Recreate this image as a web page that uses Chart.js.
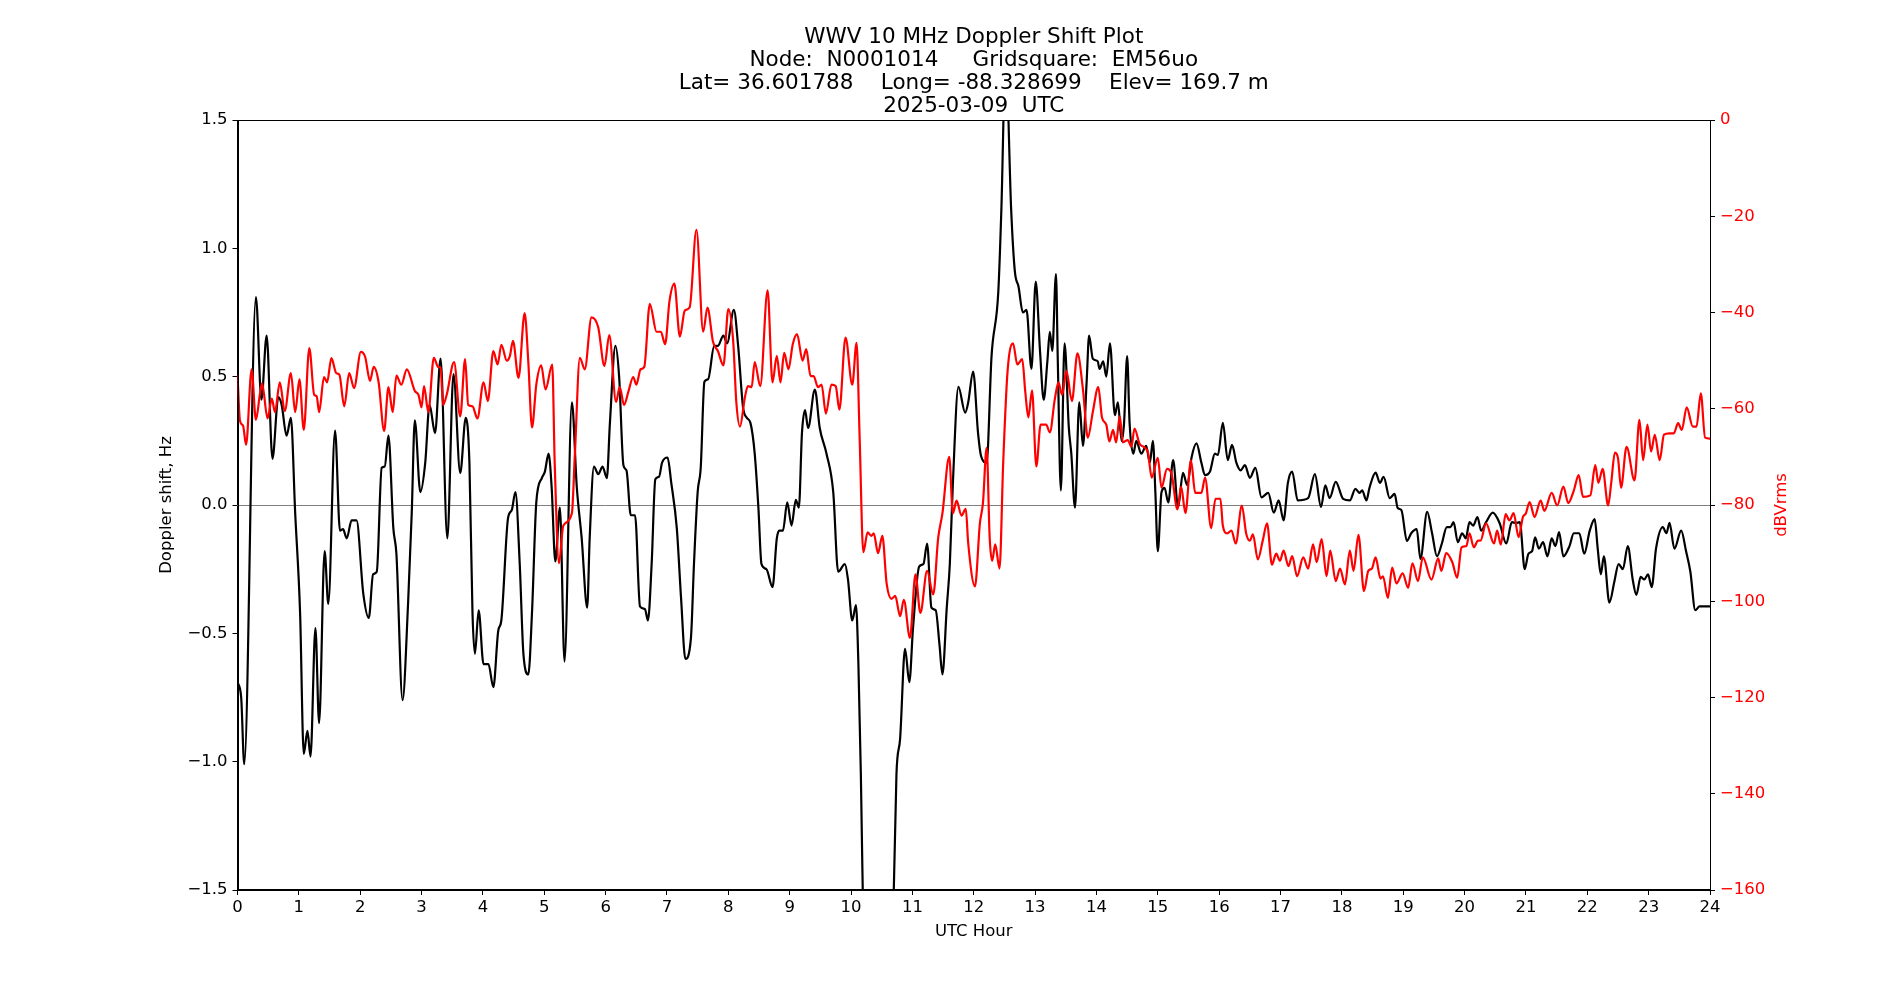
<!DOCTYPE html>
<html>
<head>
<meta charset="utf-8">
<title>WWV 10 MHz Doppler Shift Plot</title>
<script src="https://cdn.jsdelivr.net/npm/chart.js@4.4.1/dist/chart.umd.min.js"></script>
<style>
  html, body { margin: 0; padding: 0; background: #fff; }
  #wrap { width: 1900px; height: 1000px; }
</style>
</head>
<body>
<div id="wrap"><canvas id="doppler-chart" width="1900" height="1000"></canvas></div>
<script>
// Title text
const titleLines = [
    'WWV 10 MHz Doppler Shift Plot',
    'Node:  N0001014     Gridsquare:  EM56uo',
    'Lat= 36.601788    Long= -88.328699    Elev= 169.7 m',
    '2025-03-09  UTC'
];

// Doppler shift (Hz) vs UTC hour
const dopplerHours = [
    0.00, 0.06, 0.11, 0.30, 0.39, 0.475, 0.57, 0.665, 0.72, 0.80, 0.87, 0.94, 1.02, 1.08, 1.14, 1.19,
    1.27, 1.33, 1.42, 1.48, 1.59, 1.67, 1.72, 1.78, 1.86, 1.94, 2.05, 2.14, 2.21, 2.27, 2.35, 2.40,
    2.46, 2.54, 2.59, 2.69, 2.78, 2.84, 2.89, 2.98, 3.06, 3.13, 3.22, 3.31, 3.42, 3.52, 3.63, 3.72,
    3.78, 3.83, 3.87, 3.93, 4.01, 4.09, 4.17, 4.25, 4.30, 4.41, 4.47, 4.53, 4.60, 4.66, 4.74, 4.80,
    4.87, 4.96, 5.01, 5.07, 5.12, 5.18, 5.255, 5.33, 5.45, 5.53, 5.61, 5.70, 5.74, 5.81, 5.88, 5.95,
    6.02, 6.07, 6.16, 6.22, 6.29, 6.34, 6.41, 6.48, 6.56, 6.64, 6.69, 6.75, 6.81, 6.87, 6.92, 7.01,
    7.07, 7.16, 7.23, 7.30, 7.39, 7.44, 7.50, 7.55, 7.61, 7.67, 7.77, 7.83, 7.92, 7.98, 8.09, 8.16,
    8.24, 8.30, 8.36, 8.43, 8.49, 8.54, 8.62, 8.72, 8.79, 8.83, 8.89, 8.96, 9.03, 9.10, 9.15, 9.20,
    9.25, 9.30, 9.41, 9.49, 9.60, 9.71, 9.79, 9.90, 9.95, 10.02, 10.08, 10.12, 10.16, 10.22, 10.45, 10.66,
    10.74, 10.80, 10.88, 10.95, 11.01, 11.11, 11.18, 11.24, 11.31, 11.38, 11.44, 11.49, 11.56, 11.61, 11.66, 11.75,
    11.86, 11.91, 11.99, 12.07, 12.12, 12.21, 12.29, 12.40, 12.45, 12.52, 12.61, 12.67, 12.73, 12.80, 12.86, 12.94,
    13.01, 13.08, 13.14, 13.20, 13.24, 13.28, 13.34, 13.37, 13.42, 13.48, 13.55, 13.59, 13.65, 13.72, 13.78, 13.84,
    13.88, 13.94, 14.02, 14.05, 14.11, 14.16, 14.22, 14.30, 14.35, 14.41, 14.45, 14.50, 14.54, 14.60, 14.65, 14.73,
    14.81, 14.87, 14.92, 14.96, 15.00, 15.06, 15.11, 15.17, 15.25, 15.33, 15.41, 15.48, 15.55, 15.63, 15.71, 15.77,
    15.85, 15.93, 15.98, 16.06, 16.14, 16.21, 16.28, 16.35, 16.42, 16.50, 16.59, 16.69, 16.80, 16.89, 16.97, 17.05,
    17.12, 17.19, 17.28, 17.45, 17.56, 17.66, 17.73, 17.80, 17.90, 18.02, 18.13, 18.22, 18.29, 18.33, 18.40, 18.45,
    18.55, 18.62, 18.68, 18.78, 18.86, 18.91, 18.97, 19.06, 19.13, 19.22, 19.28, 19.39, 19.47, 19.55, 19.63, 19.71,
    19.77, 19.82, 19.89, 19.96, 20.02, 20.08, 20.14, 20.21, 20.27, 20.35, 20.46, 20.57, 20.68, 20.77, 20.84, 20.90,
    20.98, 21.04, 21.10, 21.15, 21.21, 21.28, 21.35, 21.42, 21.48, 21.54, 21.61, 21.71, 21.78, 21.87, 21.95, 22.04,
    22.12, 22.17, 22.22, 22.27, 22.36, 22.44, 22.51, 22.58, 22.66, 22.74, 22.80, 22.87, 22.93, 22.99, 23.05, 23.12,
    23.23, 23.29, 23.34, 23.42, 23.53, 23.61, 23.68, 23.76, 23.83, 24.00
];
const dopplerShift = [
    -0.69, -0.75, -1.01, 0.81, 0.41, 0.66, 0.18, 0.42, 0.39, 0.27, 0.34, -0.03, -0.42, -0.97, -0.88, -0.98,
    -0.48, -0.85, -0.18, -0.385, 0.29, -0.10, -0.094, -0.13, -0.06, -0.06, -0.345, -0.44, -0.27, -0.26, 0.145, 0.15,
    0.27, -0.09, -0.19, -0.76, -0.385, -0.03, 0.33, 0.05, 0.165, 0.39, 0.28, 0.57, -0.13, 0.51, 0.125, 0.34,
    0.165, -0.42, -0.58, -0.41, -0.62, -0.62, -0.71, -0.49, -0.45, -0.05, -0.02, 0.05, -0.23, -0.58, -0.66, -0.42,
    0.01, 0.105, 0.13, 0.20, 0.07, -0.22, -0.01, -0.61, 0.40, 0.07, -0.13, -0.40, -0.13, 0.15, 0.12, 0.15,
    0.105, 0.32, 0.62, 0.50, 0.155, 0.135, -0.04, -0.04, -0.395, -0.405, -0.45, -0.23, 0.10, 0.11, 0.165, 0.185,
    0.086, -0.09, -0.365, -0.60, -0.52, -0.23, 0.05, 0.145, 0.48, 0.49, 0.62, 0.62, 0.66, 0.63, 0.76, 0.62,
    0.38, 0.34, 0.32, 0.20, -0.01, -0.23, -0.25, -0.32, -0.13, -0.10, -0.10, 0.01, -0.08, 0.02, -0.01, 0.28,
    0.37, 0.30, 0.45, 0.30, 0.20, 0.05, -0.26, -0.23, -0.29, -0.45, -0.39, -0.62, -1.05, -1.9, -3.0, -1.9,
    -1.05, -0.91, -0.56, -0.69, -0.48, -0.24, -0.23, -0.15, -0.40, -0.41, -0.54, -0.66, -0.40, -0.23, 0.086, 0.46,
    0.36, 0.40, 0.52, 0.28, 0.19, 0.165, 0.58, 0.83, 1.15, 1.75, 1.15, 0.91, 0.85, 0.75, 0.76, 0.53,
    0.87, 0.60, 0.41, 0.56, 0.675, 0.60, 0.90, 0.56, 0.057, 0.63, 0.30, 0.20, -0.01, 0.40, 0.23, 0.48,
    0.66, 0.57, 0.56, 0.53, 0.56, 0.50, 0.63, 0.35, 0.40, 0.25, 0.32, 0.58, 0.32, 0.20, 0.25, 0.20,
    0.23, 0.165, 0.25, 0.05, -0.18, 0.05, 0.067, 0.01, 0.175, -0.01, 0.125, 0.077, 0.185, 0.24, 0.165, 0.116,
    0.13, 0.20, 0.195, 0.32, 0.175, 0.234, 0.165, 0.135, 0.155, 0.106, 0.145, 0.03, 0.047, -0.03, 0.018, -0.06,
    0.086, 0.13, 0.018, 0.027, 0.12, -0.008, 0.077, 0.027, 0.09, 0.024, 0.018, 0.063, 0.047, 0.057, 0.018, 0.067,
    0.126, 0.086, 0.11, 0.027, 0.043, -0.012, -0.02, -0.14, -0.11, -0.094, -0.21, -0.027, -0.11, -0.20, -0.15, -0.086,
    -0.086, -0.067, -0.145, -0.11, -0.13, -0.067, -0.08, -0.047, -0.10, -0.067, -0.03, -0.07, -0.15, -0.067, -0.07, -0.067,
    -0.25, -0.19, -0.18, -0.126, -0.17, -0.145, -0.20, -0.13, -0.16, -0.106, -0.20, -0.16, -0.11, -0.11, -0.19, -0.10,
    -0.055, -0.17, -0.27, -0.20, -0.38, -0.30, -0.23, -0.25, -0.16, -0.29, -0.35, -0.28, -0.29, -0.27, -0.32, -0.17,
    -0.086, -0.11, -0.07, -0.17, -0.10, -0.18, -0.26, -0.41, -0.395, -0.395
];

// Received level (dBVrms) vs UTC hour
const powerHours = [
    0.00, 0.04, 0.09, 0.14, 0.23, 0.30, 0.37, 0.40, 0.49, 0.56, 0.61, 0.69, 0.77, 0.87, 0.94, 1.01,
    1.08, 1.17, 1.25, 1.29, 1.33, 1.41, 1.46, 1.53, 1.61, 1.66, 1.74, 1.82, 1.90, 2.01, 2.08, 2.16,
    2.22, 2.30, 2.39, 2.46, 2.53, 2.59, 2.67, 2.76, 2.89, 2.95, 3.00, 3.04, 3.11, 3.20, 3.27, 3.31,
    3.35, 3.41, 3.53, 3.63, 3.71, 3.76, 3.83, 3.91, 4.01, 4.08, 4.17, 4.24, 4.30, 4.39, 4.44, 4.49,
    4.58, 4.68, 4.74, 4.80, 4.87, 4.95, 5.02, 5.13, 5.17, 5.24, 5.31, 5.45, 5.50, 5.58, 5.66, 5.77,
    5.88, 5.98, 6.06, 6.17, 6.23, 6.30, 6.37, 6.45, 6.50, 6.57, 6.63, 6.72, 6.83, 6.90, 6.97, 7.04,
    7.12, 7.21, 7.29, 7.37, 7.48, 7.59, 7.66, 7.75, 7.83, 7.92, 8.00, 8.08, 8.13, 8.19, 8.27, 8.32,
    8.38, 8.43, 8.52, 8.64, 8.72, 8.79, 8.85, 8.91, 8.98, 9.05, 9.12, 9.21, 9.27, 9.34, 9.39, 9.46,
    9.52, 9.59, 9.68, 9.75, 9.81, 9.91, 10.02, 10.09, 10.14, 10.20, 10.27, 10.33, 10.37, 10.44, 10.51, 10.58,
    10.66, 10.72, 10.80, 10.86, 10.96, 11.05, 11.13, 11.24, 11.34, 11.42, 11.49, 11.60, 11.66, 11.72, 11.80, 11.87,
    11.91, 12.02, 12.10, 12.15, 12.21, 12.26, 12.30, 12.35, 12.42, 12.48, 12.55, 12.64, 12.71, 12.79, 12.84, 12.89,
    12.95, 13.02, 13.09, 13.18, 13.24, 13.32, 13.38, 13.44, 13.51, 13.60, 13.69, 13.78, 13.86, 13.94, 14.03, 14.09,
    14.16, 14.21, 14.27, 14.32, 14.38, 14.43, 14.51, 14.57, 14.62, 14.70, 14.79, 14.84, 14.90, 15.00, 15.06, 15.15,
    15.22, 15.32, 15.38, 15.45, 15.54, 15.61, 15.71, 15.77, 15.87, 15.94, 16.02, 16.06, 16.13, 16.20, 16.27, 16.37,
    16.44, 16.50, 16.55, 16.63, 16.71, 16.78, 16.86, 16.93, 16.99, 17.05, 17.13, 17.19, 17.27, 17.37, 17.45, 17.53,
    17.59, 17.67, 17.75, 17.81, 17.90, 17.97, 18.05, 18.13, 18.19, 18.27, 18.36, 18.43, 18.49, 18.55, 18.63, 18.67,
    18.75, 18.82, 18.89, 18.99, 19.08, 19.15, 19.24, 19.32, 19.46, 19.57, 19.62, 19.70, 19.80, 19.88, 19.95, 20.03,
    20.08, 20.15, 20.22, 20.26, 20.35, 20.48, 20.53, 20.59, 20.67, 20.73, 20.80, 20.88, 20.95, 21.00, 21.06, 21.14,
    21.24, 21.30, 21.42, 21.51, 21.61, 21.69, 21.78, 21.86, 21.93, 22.05, 22.13, 22.18, 22.25, 22.34, 22.39, 22.45,
    22.50, 22.55, 22.64, 22.77, 22.85, 22.91, 22.98, 23.04, 23.10, 23.18, 23.25, 23.34, 23.41, 23.48, 23.54, 23.62,
    23.72, 23.78, 23.85, 23.92, 24.00
];
const powerDb = [
    -53, -62.5, -63.5, -67.5, -51.8, -62.3, -56.5, -54.7, -62, -57.9, -60.7, -54.5, -60.5, -52.6, -60.7, -53.9,
    -64.4, -47.4, -57.1, -57.4, -60.7, -53.4, -54.5, -49.5, -52.6, -52.9, -59.5, -52.6, -55.7, -48.2, -49.2, -54.2,
    -51.3, -54.5, -64.6, -55.5, -60.7, -53.1, -55, -51.8, -56.3, -57.1, -59.7, -55.3, -60.7, -49.4, -51.3, -51.5,
    -59.2, -57.1, -50.3, -61.6, -49.7, -59.2, -59.5, -62, -54.5, -58.4, -48, -50.8, -46.7, -50, -49, -45.9,
    -53.6, -40.1, -50.3, -63.9, -55, -51, -56, -50.8, -71.2, -92.1, -84.3, -81.7, -69.1, -49.4, -51.8, -41,
    -43.1, -51.1, -44.7, -58.6, -55.5, -59.2, -56.5, -53.4, -55, -51.8, -51.3, -38.2, -44, -44, -46.6, -37.7,
    -34, -45, -39.6, -38.9, -22.8, -44, -39, -46.1, -48, -51, -39.3, -46.1, -58.6, -63.7, -57.6, -55.3,
    -55.5, -50.3, -55.3, -35.4, -54.5, -49, -54.5, -48.4, -51.8, -46.6, -44.5, -50, -47.6, -53.2, -53.2, -55.5,
    -55, -61, -55, -55.3, -60.2, -45.2, -55, -46.3, -66, -89.8, -85.7, -86.4, -85.9, -90, -86.4, -96.3,
    -99.5, -98.9, -103.1, -99.7, -107.6, -94.4, -102.4, -93.7, -98.6, -86.9, -81.7, -70, -81.7, -79.1, -82.2, -80.8,
    -88, -96.9, -83.8, -79.6, -68.1, -86.9, -91.6, -88.2, -93.2, -71.2, -52.4, -46.4, -50.8, -49.7, -56.5, -61.8,
    -56.2, -72, -63.3, -63.3, -64.9, -58.1, -54.5, -57.1, -52.1, -58.4, -48.5, -56, -66, -60.7, -55.5, -61.8,
    -63.3, -66.8, -64.4, -67, -61.6, -67, -66.5, -67.9, -64.1, -67.2, -68.1, -69.1, -74.3, -70.2, -76.4, -72.5,
    -73.3, -80.9, -76.2, -81.7, -70.7, -77.5, -77.5, -74.3, -84.8, -78.7, -78.7, -84.3, -85.9, -85.3, -88, -80.1,
    -85.9, -87.4, -86.1, -91.3, -87.4, -83.8, -92.4, -90.1, -91.6, -89.5, -92.7, -90.6, -94.8, -90.9, -93.2, -88.2,
    -91.9, -87.1, -94.8, -89.5, -95.8, -93.2, -96.5, -89.5, -93.7, -86.2, -97.9, -93.7, -93.2, -90.9, -95.3, -94.8,
    -99.3, -93, -96.3, -94.2, -97.2, -92.1, -95.8, -90.9, -95.5, -91.1, -93.7, -90, -91.9, -95.1, -88.8, -88.5,
    -85.9, -88.8, -87.4, -87.4, -83.8, -88, -85.3, -88.2, -81.9, -83.2, -81.7, -86.7, -82.5, -81.7, -79.4, -82.5,
    -79.1, -81.2, -77.5, -80.1, -76.2, -79.6, -77, -73.8, -78.3, -78, -71.7, -75.4, -72.5, -80.1, -75.4, -69.1,
    -70.2, -76.4, -67.9, -74.9, -62.3, -70.7, -63.3, -68.9, -65.4, -70.7, -65.4, -65.1, -65.1, -63, -64.4, -59.7,
    -63.7, -63.7, -56.8, -66, -66.2
];

const FONT = "'DejaVu Sans', 'Liberation Sans', sans-serif";
const TICK_SIZE = 16.5;

// matplotlib style minus sign
const fmt = (v, digits) => v.toFixed(digits).replace('-', '\u2212');

// zero line, top/right frame, title and the right axis label
const framePlugin = {
    id: 'frame',
    beforeDatasetsDraw(chart) {
        const { ctx, chartArea: a, scales } = chart;
        const y0 = Math.round(scales.y.getPixelForValue(0)) + 0.5;
        ctx.save();
        ctx.strokeStyle = '#808080';
        ctx.lineWidth = 1;
        ctx.beginPath();
        ctx.moveTo(a.left, y0);
        ctx.lineTo(a.right, y0);
        ctx.stroke();
        ctx.restore();
    },
    afterDraw(chart) {
        const { ctx, chartArea: a } = chart;
        ctx.save();
        ctx.strokeStyle = '#000';
        ctx.lineWidth = 1;
        ctx.strokeRect(Math.round(a.left) + 0.5, Math.round(a.top) + 0.5,
            Math.round(a.right - a.left) - 1, Math.round(a.bottom - a.top) - 1);

        ctx.fillStyle = '#000';
        ctx.font = `21.5px ${FONT}`;
        ctx.textAlign = 'center';
        ctx.textBaseline = 'middle';
        const cx = (a.left + a.right) / 2;
        titleLines.forEach((line, i) => ctx.fillText(line, cx, 37 + i * 23.2));

        // right axis label reads bottom-to-top like the left one
        ctx.translate(1782, (a.top + a.bottom) / 2);
        ctx.rotate(-Math.PI / 2);
        ctx.fillStyle = '#ff0000';
        ctx.font = `${TICK_SIZE}px ${FONT}`;
        ctx.fillText('dBVrms', 0, 0);
        ctx.restore();
    }
};

const tickGrid = {
    display: true,
    drawOnChartArea: false,
    drawTicks: true,
    tickLength: 5,
    tickColor: '#000',
    lineWidth: 1
};

const ctx = document.getElementById('doppler-chart').getContext('2d');
new Chart(ctx, {
    type: 'line',
    data: {
        datasets: [
            {
                label: 'dBVrms',
                data: powerHours.map((h, i) => ({ x: h, y: powerDb[i] })),
                borderColor: '#ff0000',
                borderWidth: 2.2,
                pointRadius: 0,
                cubicInterpolationMode: 'monotone',
                yAxisID: 'y2',
                clip: 0,
                order: 1
            },
            {
                label: 'Doppler shift, Hz',
                data: dopplerHours.map((h, i) => ({ x: h, y: dopplerShift[i] })),
                borderColor: '#000000',
                borderWidth: 2.2,
                pointRadius: 0,
                cubicInterpolationMode: 'monotone',
                yAxisID: 'y',
                clip: 0,
                order: 2
            }
        ]
    },
    options: {
        responsive: false,
        animation: false,
        devicePixelRatio: 1,
        layout: { padding: { top: 120, left: 0, right: 0, bottom: 0 } },
        plugins: {
            legend: { display: false },
            tooltip: { enabled: false }
        },
        scales: {
            x: {
                type: 'linear',
                min: 0,
                max: 24,
                afterFit: scale => { scale.height = 110; },
                ticks: {
                    stepSize: 1,
                    autoSkip: false,
                    maxRotation: 0,
                    padding: 3,
                    color: '#000',
                    font: { family: FONT, size: TICK_SIZE },
                    callback: v => String(v)
                },
                grid: tickGrid,
                border: { display: true, color: '#000', width: 1 },
                title: {
                    display: true,
                    text: 'UTC Hour',
                    color: '#000',
                    font: { family: FONT, size: TICK_SIZE },
                    padding: { top: 0, bottom: 58 }
                }
            },
            y: {
                type: 'linear',
                position: 'left',
                min: -1.5,
                max: 1.5,
                afterFit: scale => { scale.width = 237.5; },
                ticks: {
                    stepSize: 0.5,
                    padding: 5,
                    color: '#000',
                    font: { family: FONT, size: TICK_SIZE },
                    callback: v => fmt(v, 1)
                },
                grid: tickGrid,
                border: { display: true, color: '#000', width: 1 },
                title: {
                    display: true,
                    text: 'Doppler shift, Hz',
                    color: '#000',
                    font: { family: FONT, size: TICK_SIZE },
                    padding: { top: 157, bottom: 0 }
                }
            },
            y2: {
                type: 'linear',
                position: 'right',
                min: -160,
                max: 0,
                afterFit: scale => { scale.width = 190; },
                ticks: {
                    stepSize: 20,
                    padding: 5,
                    color: '#ff0000',
                    font: { family: FONT, size: TICK_SIZE },
                    callback: v => fmt(v, 0)
                },
                grid: tickGrid,
                border: { display: true, color: '#000', width: 1 }
            }
        }
    },
    plugins: [framePlugin]
});
</script>
</body>
</html>
